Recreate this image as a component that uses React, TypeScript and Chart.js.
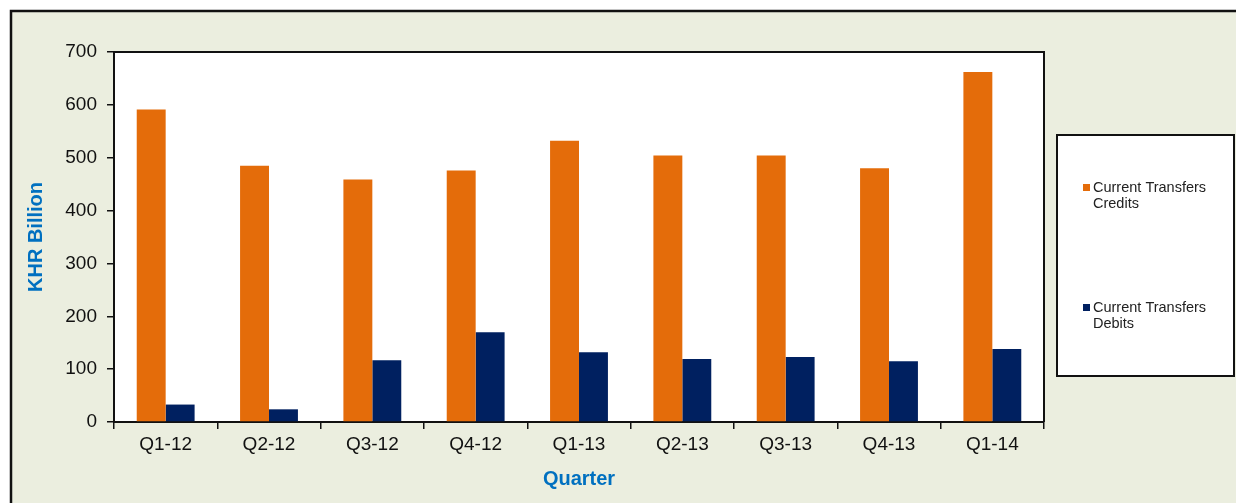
import React, { useEffect, useRef } from "react";
import { Chart, registerables } from "chart.js";

Chart.register(...registerables);

const categories = ["Q1-12", "Q2-12", "Q3-12", "Q4-12", "Q1-13", "Q2-13", "Q3-13", "Q4-13", "Q1-14"];
const credits = [591, 485, 459, 476, 532, 504, 504, 480, 662];
const debits = [33, 24, 117, 170, 132, 119, 123, 115, 138];
const seriesNames = [["Current Transfers", "Credits"], ["Current Transfers", "Debits"]];
const seriesColors = ["#E46C0A", "#002060"];
const yTicks = [0, 100, 200, 300, 400, 500, 600, 700];

const FONT = '"Liberation Sans", Arial, sans-serif';
const BG = "#EBEEDF";
const TITLE_BLUE = "#0070C0";

const framePlugin = {
  id: "framePlugin",
  beforeDraw(chart: any) {
    const { ctx, width, height, chartArea } = chart;
    ctx.save();
    ctx.fillStyle = "#FFFFFF";
    ctx.fillRect(0, 0, width, height);
    ctx.fillStyle = BG;
    ctx.fillRect(11, 11, width - 11, height - 11);
    ctx.strokeStyle = "#111";
    ctx.lineWidth = 2.5;
    ctx.beginPath();
    ctx.moveTo(11, height);
    ctx.lineTo(11, 11);
    ctx.lineTo(width, 11);
    ctx.stroke();
    ctx.fillStyle = "#FFFFFF";
    ctx.fillRect(chartArea.left, chartArea.top, chartArea.right - chartArea.left, chartArea.bottom - chartArea.top);
    ctx.restore();
  },
  afterDraw(chart: any) {
    const { ctx, chartArea } = chart;
    ctx.save();
    // plot area top/right border
    ctx.strokeStyle = "#111";
    ctx.lineWidth = 2;
    ctx.beginPath();
    ctx.moveTo(chartArea.left, chartArea.top);
    ctx.lineTo(chartArea.right, chartArea.top);
    ctx.lineTo(chartArea.right, chartArea.bottom);
    ctx.stroke();

    // legend box
    const lx = 1057, ly = 135, lw = 177, lh = 241;
    ctx.fillStyle = "#FFFFFF";
    ctx.fillRect(lx, ly, lw, lh);
    ctx.strokeStyle = "#111";
    ctx.lineWidth = 2;
    ctx.strokeRect(lx, ly, lw, lh);

    const entryY = [188, 308];
    ctx.font = `14.5px ${FONT}`;
    ctx.textBaseline = "middle";
    ctx.textAlign = "left";
    chart.data.datasets.forEach((ds: any, i: number) => {
      const y = entryY[i];
      ctx.fillStyle = ds.backgroundColor;
      ctx.fillRect(1083, y - 4, 7, 7);
      ctx.fillStyle = "#222";
      const lines: string[] = ds.legendLines;
      lines.forEach((t, k) => ctx.fillText(t, 1093, y + k * 16));
    });
    ctx.restore();
  },
};

export default function App() {
  const ref = useRef<HTMLCanvasElement>(null);

  useEffect(() => {
    if (!ref.current) return;
    const chart = new Chart(ref.current, {
      type: "bar",
      data: {
        labels: categories,
        datasets: [
          {
            label: seriesNames[0].join(" "),
            legendLines: seriesNames[0],
            data: credits,
            backgroundColor: seriesColors[0],
            categoryPercentage: 0.56,
            barPercentage: 1,
          } as any,
          {
            label: seriesNames[1].join(" "),
            legendLines: seriesNames[1],
            data: debits,
            backgroundColor: seriesColors[1],
            categoryPercentage: 0.56,
            barPercentage: 1,
          } as any,
        ],
      },
      options: {
        responsive: false,
        animation: false,
        layout: { padding: { top: 52, right: 192, left: 0, bottom: 0 } },
        plugins: {
          legend: { display: false },
          tooltip: { enabled: false },
        },
        scales: {
          x: {
            grid: { drawOnChartArea: false, drawTicks: true, tickLength: 7, color: "#111", lineWidth: 1.5, offset: true },
            border: { color: "#111", width: 2 },
            ticks: { color: "#111", font: { family: FONT, size: 19 }, padding: 4, maxRotation: 0 },
            title: {
              display: true,
              text: "Quarter",
              color: TITLE_BLUE,
              font: { family: FONT, size: 20, weight: "bold" },
              padding: { top: 0, bottom: 12 },
            },
            afterFit(scale: any) {
              scale.height = 81;
            },
          },
          y: {
            min: 0,
            max: 700,
            afterBuildTicks(scale: any) {
              scale.ticks = yTicks.map((v) => ({ value: v }));
            },
            grid: { drawOnChartArea: false, drawTicks: true, tickLength: 7, color: "#111", lineWidth: 1.5 },
            border: { color: "#111", width: 2 },
            ticks: { color: "#111", font: { family: FONT, size: 19 }, padding: 10 },
            title: {
              display: true,
              text: "KHR Billion",
              color: TITLE_BLUE,
              font: { family: FONT, size: 20, weight: "bold" },
              padding: { top: 24, bottom: 0 },
            },
            afterFit(scale: any) {
              scale.width = 114;
            },
          },
        },
      },
      plugins: [framePlugin],
    });
    return () => chart.destroy();
  }, []);

  return (
    <div style={{ position: "fixed", left: 0, top: 0, width: 1236, height: 503 }}>
      <canvas ref={ref} width={1236} height={503} style={{ display: "block" }} />
    </div>
  );
}
